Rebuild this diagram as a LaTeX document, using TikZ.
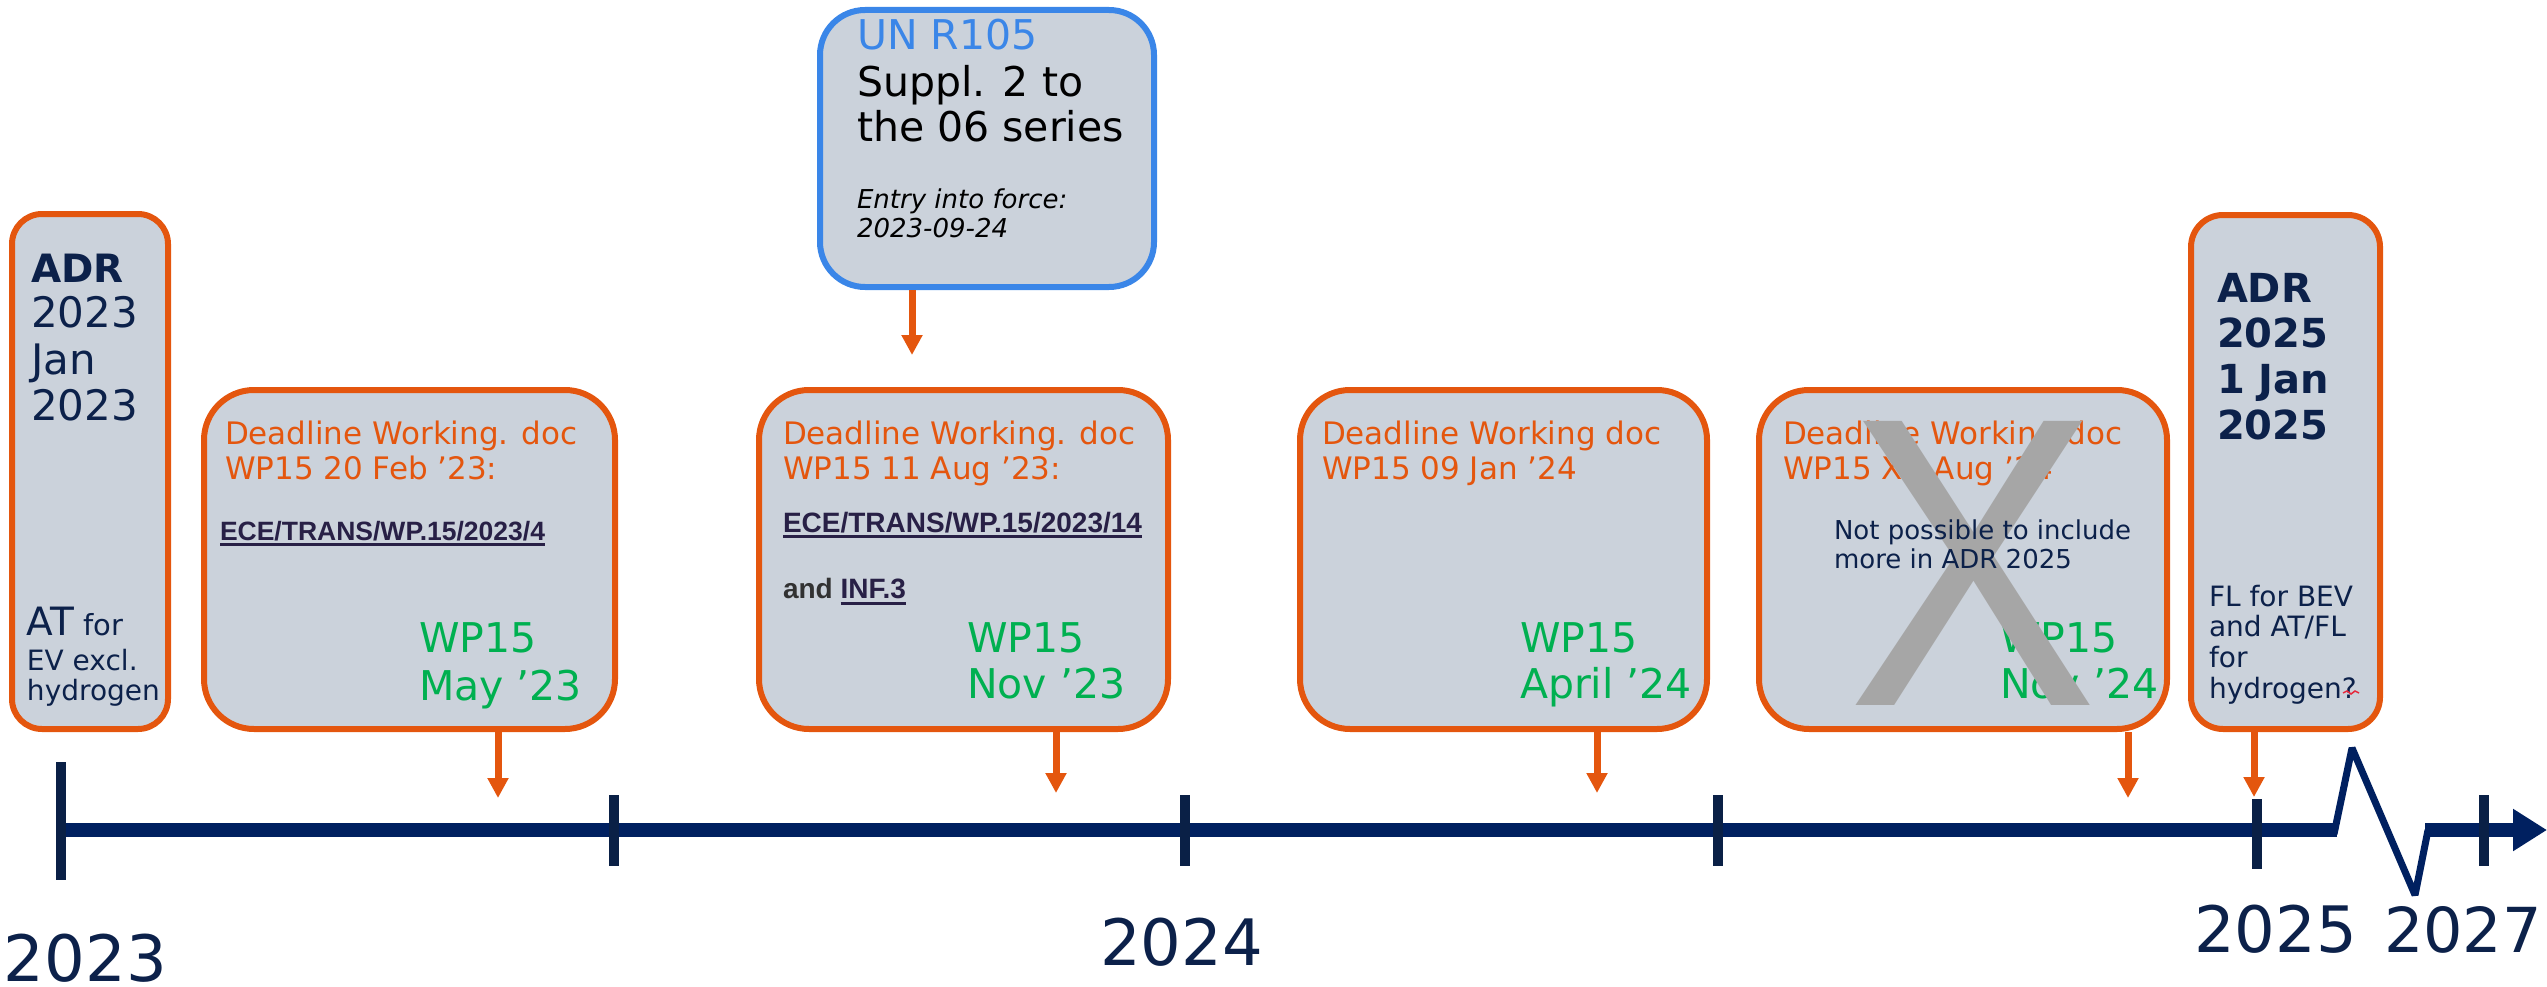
\documentclass[tikz,border=0pt]{standalone}
\usepackage{fontspec}
\usepackage{graphicx}
\setmainfont{DejaVu Sans}
\newfontfamily\libsans{Liberation Sans}
\usetikzlibrary{arrows.meta}
\definecolor{orng}{RGB}{228,86,14}
\definecolor{grn}{RGB}{0,176,80}
\definecolor{bluex}{RGB}{58,134,232}
\definecolor{boxfill}{RGB}{203,210,219}
\definecolor{navy}{RGB}{12,33,74}
\definecolor{barc}{RGB}{0,32,96}
\definecolor{tickc}{RGB}{10,32,70}
\definecolor{ecec}{RGB}{40,32,70}
\definecolor{andc}{RGB}{50,50,50}
\definecolor{xgray}{RGB}{166,166,166}
\definecolor{spellred}{RGB}{230,40,60}
\newcommand\myfs[1]{\fontsize{#1}{#1}\selectfont}
\begin{document}
\begin{tikzpicture}[x=1pt,y=-1pt,
  obox/.style={draw=orng, line width=6pt, fill=boxfill, rounded corners=#1, inner sep=0pt, outer sep=3pt},
  obox/.default=50pt,
  bbox/.style={draw=bluex, line width=6pt, fill=boxfill, rounded corners=45pt, inner sep=0pt, outer sep=3pt},
  txt/.style={anchor=base west, inner sep=0pt, outer sep=0pt},
  arr/.style={draw=orng, line width=7pt, -{Triangle[length=20pt,width=20pt]}},
  tickmark/.style={draw=tickc, line width=10pt},
  ulline/.style={draw=ecec, line width=3pt},
  orangetxt/.style={txt, text=orng, font=\myfs{31}},
  greentxt/.style={txt, text=grn, font=\myfs{41}},
  navytxt/.style={txt, text=navy},
  ecetxt/.style={txt, text=ecec, font=\libsans\bfseries\myfs{28}},
  yeartxt/.style={txt, text=navy, font=\myfs{64}}
]
\useasboundingbox (0,0) rectangle (2547,987);

% ---------- boxes ----------
\node[obox=30pt, minimum width=156pt, minimum height=515pt] (adr23) at (90,471.5) {};
\node[obox, minimum width=411pt, minimum height=339pt] (dl1) at (409.5,559.5) {};
\node[bbox, minimum width=334pt, minimum height=277pt] (unr) at (987,148.5) {};
\node[obox, minimum width=409pt, minimum height=339pt] (dl2) at (963.5,559.5) {};
\node[obox, minimum width=407pt, minimum height=339pt] (dl3) at (1503.5,559.5) {};
\node[obox, minimum width=408pt, minimum height=339pt] (dl4) at (1963,559.5) {};
\node[obox=32pt, minimum width=189pt, minimum height=514pt] (adr25) at (2285.5,472) {};

% ---------- ADR 2023 box ----------
\node[navytxt, font=\bfseries\myfs{39}] (a1) at (31,282) {ADR};
\node[navytxt, font=\myfs{42}] (a2) at (31,327) {2023};
\node[navytxt, font=\myfs{42}] (a3) at (31,374) {Jan};
\node[navytxt, font=\myfs{42}] (a4) at (31,420) {2023};
\node[navytxt, font=\myfs{39}] (a5) at (27,635) {AT{\myfs{29} for}};
\node[navytxt, font=\myfs{28}] (a6) at (27,670) {EV excl.};
\node[navytxt, font=\myfs{28}] (a7) at (27,700) {hydrogen};

% ---------- Deadline Feb ----------
\node[orangetxt] (d1a) at (225,444) {Deadline Working. doc};
\node[orangetxt] (d1b) at (225,479) {WP15 20 Feb ’23:};
\node[ecetxt, font=\libsans\bfseries\myfs{26.5}] (d1c) at (220,540) {ECE/TRANS/WP.15/2023/4};
\draw[ulline] ([yshift=-4pt]d1c.base west) -- ([yshift=-4pt]d1c.base east);
\node[greentxt] (d1d) at (419,652) {WP15};
\node[greentxt] (d1e) at (419,700) {May ’23};

% ---------- UN R105 ----------
\node[txt, text=bluex, font=\myfs{41}] (u1) at (857,50) {UN R105};
\node[txt, text=black, font=\myfs{41}] (u2) at (857,97) {Suppl. 2 to};
\node[txt, text=black, font=\myfs{41}] (u3) at (857,142) {the 06 series};
\node[txt, text=black, font=\itshape\myfs{26}] (u4) at (857,208) {Entry into force:};
\node[txt, text=black, font=\itshape\myfs{26}] (u5) at (857,237) {2023-09-24};

% ---------- Deadline Aug 23 ----------
\node[orangetxt] (d2a) at (783,444) {Deadline Working. doc};
\node[orangetxt] (d2b) at (783,479) {WP15 11 Aug ’23:};
\node[ecetxt] (d2c) at (783,532) {ECE/TRANS/WP.15/2023/14};
\draw[ulline] ([yshift=-4pt]d2c.base west) -- ([yshift=-4pt]d2c.base east);
\node[ecetxt, text=andc] (d2d) at (783,598) {and};
\node[ecetxt] (d2e) at (d2d.base east) [xshift=7.8pt] {INF.3};
\draw[ulline] ([yshift=-5pt]d2e.base west) -- ([yshift=-5pt]d2e.base east);
\node[greentxt] (d2f) at (967,652) {WP15};
\node[greentxt] (d2g) at (967,698) {Nov ’23};

% ---------- Deadline Jan 24 ----------
\node[orangetxt] (d3a) at (1322,444) {Deadline Working doc};
\node[orangetxt] (d3b) at (1322,479) {WP15 09 Jan ’24};
\node[greentxt] (d3c) at (1520,652) {WP15};
\node[greentxt] (d3d) at (1520,698) {April ’24};

% ---------- Deadline XX Aug 24 (crossed) ----------
\node[orangetxt] (d4a) at (1783,444) {Deadline Working doc};
\node[orangetxt] (d4b) at (1783,479) {WP15 XX Aug ’24};
\node[greentxt] (d4c) at (2000,652) {WP15};
\node[greentxt] (d4d) at (2000,698) {Nov ’24};
\node[anchor=base, inner sep=0pt, text=xgray, font=\libsans\myfs{413}] (bigx) at (1973,705) {\scalebox{0.91}[1]{X}};
\node[navytxt, font=\myfs{26}] (d4e) at (1834,539) {Not possible to include};
\node[navytxt, font=\myfs{26}] (d4f) at (1834,568) {more in ADR 2025};

% ---------- ADR 2025 box ----------
\node[navytxt, font=\bfseries\myfs{40}] (c1) at (2217,302) {ADR};
\node[navytxt, font=\bfseries\myfs{40}] (c2) at (2217,347) {2025};
\node[navytxt, font=\bfseries\myfs{40}] (c3) at (2217,393) {1 Jan};
\node[navytxt, font=\bfseries\myfs{40}] (c4) at (2217,439) {2025};
\node[navytxt, font=\myfs{28}] (c5) at (2209,606) {FL for BEV};
\node[navytxt, font=\myfs{28}] (c6) at (2209,636) {and AT/FL};
\node[navytxt, font=\myfs{28}] (c7) at (2209,667) {for};
\node[navytxt, font=\myfs{28}] (c8) at (2209,698) {hydrogen?};
\draw[spellred, line width=1.5pt] (2343,693) -- (2347,691) -- (2351,694) -- (2355,691) -- (2359,693);

% ---------- axis ----------
\draw[barc, line width=14pt] (61,830) -- (2337,830);
\draw[barc, line width=7pt, line join=bevel] (2334,834) -- (2352,748) -- (2415,895) -- (2428,830);
\draw[barc, line width=14pt, -{Triangle[length=34pt,width=40pt]}] (2425,830) -- (2547,830);

\draw[tickmark] (61,762) -- (61,880);
\draw[tickmark] (614,795) -- (614,866);
\draw[tickmark] (1185,795) -- (1185,866);
\draw[tickmark] (1718,795) -- (1718,866);
\draw[tickmark] (2257,799) -- (2257,869);
\draw[tickmark] (2484,795) -- (2484,866);

\node[yeartxt] (y23) at (4,981) {2023};
\node[yeartxt] (y24) at (1100,965) {2024};
\node[yeartxt] (y25) at (2194,952) {2025};
\node[yeartxt, font=\myfs{62}] (y27) at (2384,952) {2027};

% ---------- connectors ----------
\coordinate (t0) at (912,355);
\coordinate (t1) at (498,798);
\coordinate (t2) at (1056,793);
\coordinate (t3) at (1597,793);
\coordinate (t4) at (2128,798);
\coordinate (t5) at (2254,797);
\draw[arr] (unr.south -| t0) -- (t0);
\draw[arr] (dl1.south -| t1) -- (t1);
\draw[arr] (dl2.south -| t2) -- (t2);
\draw[arr] (dl3.south -| t3) -- (t3);
\draw[arr] (dl4.south -| t4) -- (t4);
\draw[arr] (adr25.south -| t5) -- (t5);
\end{tikzpicture}
\end{document}
